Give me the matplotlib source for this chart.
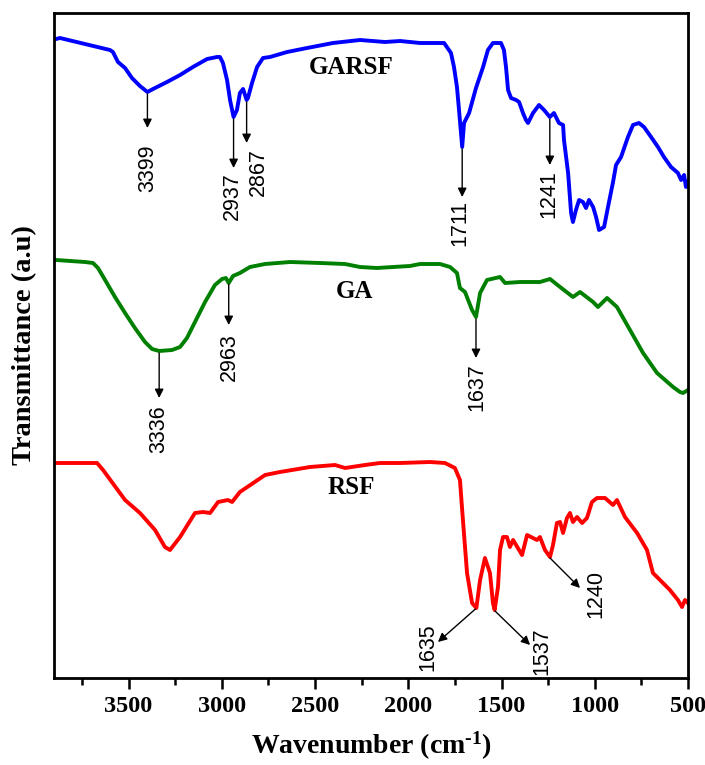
import matplotlib
matplotlib.use('Agg')
import matplotlib.pyplot as plt

plt.rcParams['mathtext.fontset'] = 'custom'
plt.rcParams['mathtext.rm'] = 'Liberation Serif:bold'
plt.rcParams['mathtext.bf'] = 'Liberation Serif:bold'
plt.rcParams['mathtext.default'] = 'rm'

# GARSF spectrum (wavenumber in cm-1, transmittance in a.u.)
garsf_wn = [3889, 3868, 3600, 3584, 3557, 3519, 3482, 3439, 3399, 3369, 3294, 3224, 3155,
            3079, 3026, 3010, 2994, 2972, 2956, 2937, 2919, 2903, 2886, 2867, 2860, 2838,
            2811, 2779, 2742, 2650, 2543, 2404, 2259, 2125, 2044, 1937, 1808, 1771, 1755,
            1739, 1728, 1711, 1701, 1674, 1637, 1599, 1573, 1546, 1503, 1487, 1476, 1465,
            1449, 1422, 1406, 1385, 1369, 1358, 1331, 1299, 1272, 1241, 1219, 1192, 1170,
            1165, 1143, 1127, 1117, 1101, 1084, 1063, 1047, 1031, 1009, 993, 977, 950, 929,
            902, 886, 859, 822, 795, 763, 736, 698, 661, 629, 591, 554, 537, 521, 511, 500]
garsf_t = [63.9, 64.0, 62.8, 62.6, 61.6, 61.0, 60.0, 59.2, 58.6, 58.9, 59.6, 60.3, 61.1,
           61.9, 62.1, 62.1, 61.5, 59.8, 57.8, 56.1, 56.8, 58.5, 58.9, 57.8, 58.0, 59.5,
           61.1, 62.0, 62.1, 62.6, 63.0, 63.5, 63.8, 63.6, 63.7, 63.5, 63.5, 62.5, 61.1,
           59.1, 56.8, 53.1, 55.5, 56.5, 59.0, 61.1, 62.8, 63.5, 63.5, 62.8, 61.1, 58.8,
           58.0, 57.8, 57.6, 56.5, 55.8, 55.5, 56.5, 57.3, 56.8, 56.1, 56.5, 55.5, 55.3,
           53.8, 50.5, 46.5, 45.6, 46.8, 47.8, 47.6, 47.0, 47.8, 47.1, 46.1, 44.8, 45.1, 47.1,
           49.6, 51.3, 52.1, 54.1, 55.3, 55.5, 55.1, 54.1, 53.1, 52.1, 51.1, 50.5, 49.8, 50.3,
           49.1, 49.6]

# GA spectrum
ga_wn = [3889, 3734, 3691, 3664, 3626, 3573, 3519, 3466, 3412, 3374, 3336, 3267, 3224,
         3187, 3144, 3090, 3037, 2999, 2978, 2963, 2940, 2903, 2849, 2768, 2634, 2473,
         2339, 2259, 2168, 2082, 1991, 1937, 1830, 1776, 1739, 1723, 1696, 1658, 1637,
         1615, 1578, 1508, 1481, 1401, 1294, 1240, 1186, 1117, 1079, 1009, 983, 934, 881,
         811, 741, 666, 580, 543, 527, 500]
ga_t = [41.8, 41.6, 41.5, 41.0, 39.8, 38.1, 36.5, 35.0, 33.6, 32.9, 32.7, 32.8, 33.1,
        34.0, 35.6, 37.6, 39.3, 39.9, 40.0, 39.5, 40.2, 40.5, 41.1, 41.4, 41.6, 41.5,
        41.4, 41.1, 41.0, 41.1, 41.2, 41.4, 41.4, 41.1, 40.5, 39.0, 38.6, 36.8, 36.1,
        38.5, 39.8, 40.1, 39.5, 39.6, 39.6, 39.9, 39.1, 38.1, 38.6, 37.6, 37.1, 38.0, 37.1,
        34.8, 32.5, 30.5, 29.1, 28.6, 28.5, 28.8]

# RSF spectrum
rsf_wn = [3889, 3669, 3637, 3519, 3439, 3358, 3305, 3278, 3224, 3144, 3101, 3063, 3020,
          2967, 2945, 2903, 2768, 2688, 2527, 2393, 2339, 2232, 2152, 2044, 1884, 1803,
          1750, 1723, 1707, 1685, 1658, 1635, 1615, 1589, 1562, 1546, 1537, 1519, 1508,
          1492, 1471, 1455, 1438, 1390, 1363, 1331, 1310, 1294, 1267, 1240, 1224, 1203,
          1186, 1170, 1149, 1133, 1117, 1095, 1068, 1042, 1015, 988, 945, 902, 881, 838,
          773, 720, 688, 650, 597, 554, 532, 516, 500]
rsf_t = [21.5, 21.5, 20.8, 17.8, 16.5, 14.8, 13.1, 12.8, 14.1, 16.5, 16.6, 16.5, 17.6,
         17.8, 17.6, 18.6, 20.3, 20.6, 21.1, 21.3, 21.0, 21.3, 21.5, 21.5, 21.6, 21.5,
         21.0, 19.8, 15.8, 10.5, 7.5, 7.0, 9.8, 12.0, 10.5, 7.5, 6.8, 9.1, 12.8,
         14.1, 14.1, 13.1, 13.8, 12.3, 14.3, 14.0, 13.8, 14.1, 12.8, 12.1, 13.3, 15.5,
         15.6, 14.5, 16.0, 16.5, 15.6, 16.1, 15.5, 16.0, 17.6, 18.0, 18.0, 17.3, 17.8, 16.1,
         14.5, 12.8, 10.5, 9.8, 8.8, 7.8, 7.1, 7.8, 7.5]

# peak annotations: label, arrow tail (wn, t), arrow tip (wn, t), label pos (wn, t top)
peak_labels = ['3399', '2937', '2867', '1711', '1241',
               '3336', '2963', '1637',
               '1635', '1537', '1240']
peak_tail = [(3399, 58.4), (2937, 55.9), (2867, 57.6), (1711, 52.9), (1241, 55.9),
             (3336, 32.5), (2963, 39.4), (1637, 35.9),
             (1640, 6.9), (1535, 6.7), (1240, 12.0)]
peak_tip = [(3399, 55.0), (2937, 51.0), (2867, 53.5), (1711, 48.1), (1241, 51.3),
            (3336, 28.0), (2963, 35.3), (1637, 32.0),
            (1841, 3.6), (1347, 3.3), (1079, 9.0)]
label_pos = [(3399, 53.3), (2942, 50.6), (2806, 53.0), (1722, 47.8), (1245, 50.8),
             (3336, 27.3), (2960, 34.5), (1632, 31.5),
             (1894, 5.5), (1283, 5.1), (993, 10.8)]

fig = plt.figure(figsize=(7.05, 7.65), dpi=100)
ax = fig.add_axes([54 / 705, 87 / 765, 634 / 705, 665 / 765])

ax.plot(garsf_wn, garsf_t, color='#0000ff', lw=2.8)
ax.plot(ga_wn, ga_t, color='#008000', lw=2.8)
ax.plot(rsf_wn, rsf_t, color='#ff0000', lw=2.8)

serif = 'Liberation Serif'
ax.text(2307, 61.0, 'GARSF', family=serif, weight='bold', fontsize=18, ha='center', va='center')
ax.text(2291, 38.7, 'GA', family=serif, weight='bold', fontsize=18, ha='center', va='center')
ax.text(2307, 19.0, 'RSF', family=serif, weight='bold', fontsize=18, ha='center', va='center')

for lab, tail, tip, pos in zip(peak_labels, peak_tail, peak_tip, label_pos):
    ax.annotate('', xy=tip, xytext=tail,
                arrowprops=dict(arrowstyle='-|>', color='black', lw=1.0,
                                mutation_scale=13, shrinkA=0, shrinkB=0))
    ax.text(pos[0], pos[1], lab, family='Liberation Sans', fontsize=15.5,
            rotation=90, ha='center', va='top')

ax.set_xlim(3900, 500)
ax.set_ylim(0, 66.5)
ax.set_xticks([3500, 3000, 2500, 2000, 1500, 1000, 500])
ax.set_xticks([3750, 3250, 2750, 2250, 1750, 1250, 750], minor=True)
ax.set_yticks([])
ax.tick_params(axis='x', which='major', direction='out', length=8, width=1.8, pad=5)
ax.tick_params(axis='x', which='minor', direction='out', length=5, width=1.8)
for lab in ax.get_xticklabels():
    lab.set_family(serif)
    lab.set_weight('bold')
    lab.set_fontsize(17.5)
for sp in ax.spines.values():
    sp.set_linewidth(2.0)

ax.set_xlabel('Wavenumber (cm$^{\u2010 1}$)', family=serif, weight='bold', fontsize=20, labelpad=9)
ax.set_ylabel('Transmittance (a.u)', family=serif, weight='bold', fontsize=20.5, labelpad=12)

fig.savefig('out.png', dpi=100)
